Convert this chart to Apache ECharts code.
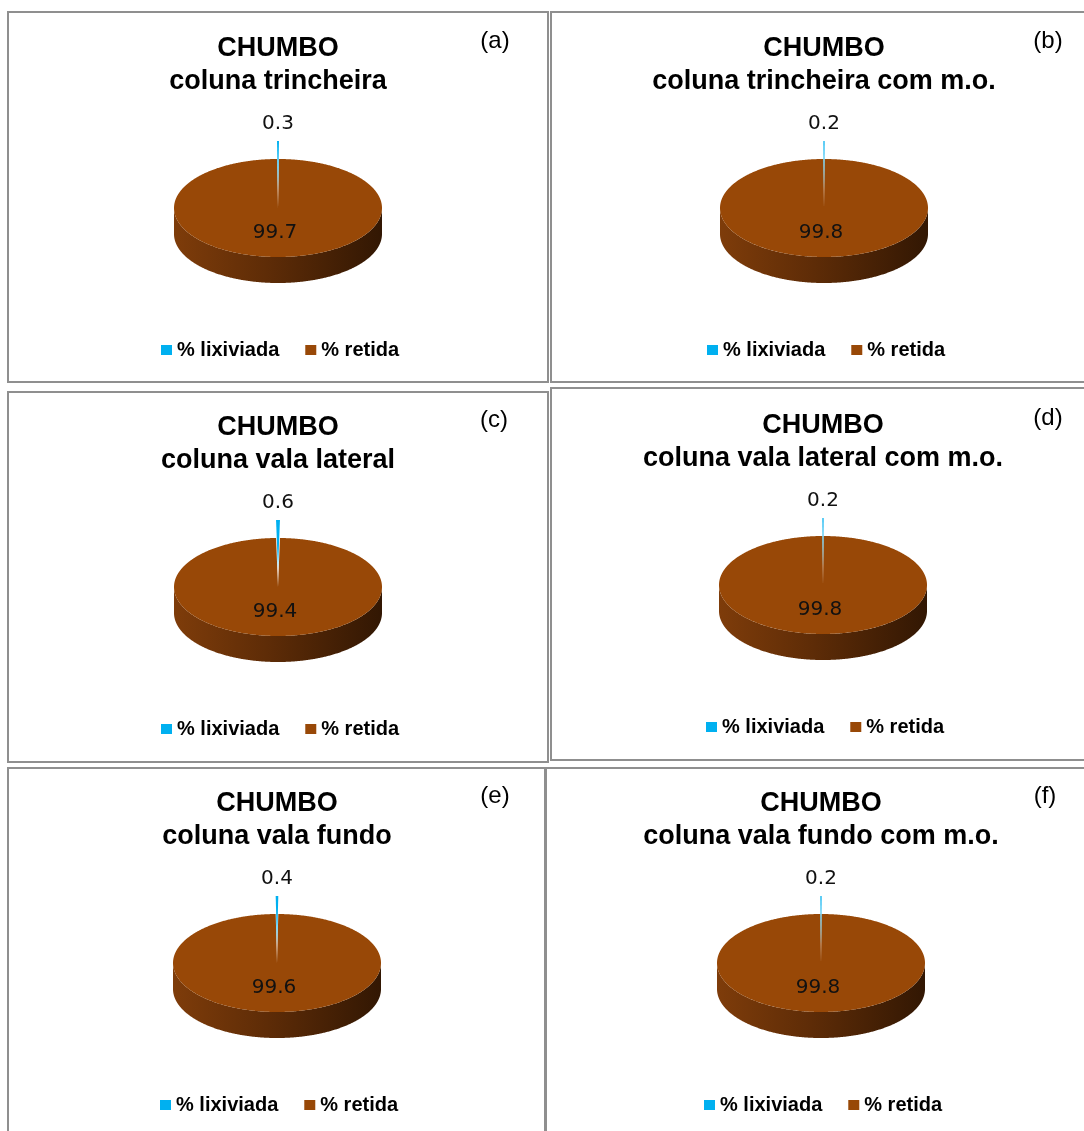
<!DOCTYPE html>
<html>
<head>
<meta charset="utf-8">
<script src="https://cdn.jsdelivr.net/npm/echarts@6/dist/echarts.min.js"></script>
<style>
  html, body { margin: 0; padding: 0; background: #fff; }
  #chart { width: 1084px; height: 1131px; }
</style>
</head>
<body>
<div id="chart"></div>
<script>
// data
const categories = ['% lixiviada', '% retida']
const heading = 'CHUMBO'
const subtitles = [
  'coluna trincheira',
  'coluna trincheira com m.o.',
  'coluna vala lateral',
  'coluna vala lateral com m.o.',
  'coluna vala fundo',
  'coluna vala fundo com m.o.'
]
const tags = ['(a)', '(b)', '(c)', '(d)', '(e)', '(f)']
const lixiviada = [0.3, 0.2, 0.6, 0.2, 0.4, 0.2]
const retida = [99.7, 99.8, 99.4, 99.8, 99.6, 99.8]

// panel layout (pixels)
const panels = [
  { cx: 278, cy: 208, tagX: 495, box: [8, 12, 540, 370] },
  { cx: 824, cy: 208, tagX: 1048, box: [551, 12, 545, 370] },
  { cx: 278, cy: 587, tagX: 494, box: [8, 392, 540, 370] },
  { cx: 823, cy: 585, tagX: 1048, box: [551, 388, 545, 372] },
  { cx: 277, cy: 963, tagX: 495, box: [8, 768, 537, 380] },
  { cx: 821, cy: 963, tagX: 1045, box: [546, 768, 550, 380] }
]

const RX = 104
const RY = 49
const DEPTH = 26
const EXPLODE_Y = 18
const colors = { '% lixiviada': '#00B0F0', '% retida': '#984807' }

function arc(cx, cy, a0, a1) {
  const pts = []
  const n = Math.max(2, Math.ceil((a1 - a0) / (Math.PI / 360)))
  for (let k = 0; k <= n; k++) {
    const a = a0 + (a1 - a0) * k / n
    pts.push([cx + RX * Math.sin(a), cy - RY * Math.cos(a)])
  }
  return pts
}

function makeSlice(p, color, explode) {
  return function (params, api) {
    const start = api.value(0)
    const val = api.value(1)
    const a0 = start / 100 * Math.PI * 2
    const a1 = (start + val) / 100 * Math.PI * 2
    const mid = (a0 + a1) / 2
    let cx = p.cx
    let cy = p.cy
    if (explode) {
      cx += Math.sin(mid) * EXPLODE_Y * RX / RY
      cy -= Math.cos(mid) * EXPLODE_Y
    }
    const children = []
    // side wall, only the front half shows
    const s = Math.max(a0, Math.PI / 2)
    const e = Math.min(a1, Math.PI * 1.5)
    if (s < e) {
      const top = arc(cx, cy, s, e)
      const bottom = top.map(q => [q[0], q[1] + DEPTH]).reverse()
      children.push({
        type: 'polygon',
        shape: { points: top.concat(bottom) },
        style: {
          fill: {
            type: 'linear', x: cx - RX, y: 0, x2: cx + RX, y2: 0, global: true,
            colorStops: [
              { offset: 0, color: '#7e3c0a' },
              { offset: 0.45, color: '#5e2c07' },
              { offset: 1, color: '#321703' }
            ]
          }
        }
      })
    }
    children.push({
      type: 'polygon',
      shape: { points: [[cx, cy]].concat(arc(cx, cy, a0, a1)) },
      style: { fill: color }
    })
    // data label: small slices outside, big ones inside
    const f = val < 5 ? 1.72 : 0.51
    children.push({
      type: 'text',
      style: {
        text: String(val),
        x: p.cx + Math.sin(mid) * RX * f - (val < 5 ? 0 : 3),
        y: p.cy - Math.cos(mid) * RY * f,
        fill: '#111',
        font: '20px "DejaVu Sans"',
        align: 'center',
        verticalAlign: 'middle'
      }
    })
    return { type: 'group', children }
  }
}

// first slice centred on twelve o'clock
const series = []
panels.forEach((p, i) => {
  const rot = lixiviada[i] / 2
  series.push({
    type: 'custom',
    name: '% retida',
    coordinateSystem: 'none',
    dimensions: ['start', 'val'],
    itemStyle: { color: colors['% retida'] },
    silent: true,
    z: 2,
    renderItem: makeSlice(p, colors['% retida'], false),
    data: [[lixiviada[i] - rot, retida[i]]]
  })
  series.push({
    type: 'custom',
    name: '% lixiviada',
    coordinateSystem: 'none',
    dimensions: ['start', 'val'],
    itemStyle: { color: colors['% lixiviada'] },
    silent: true,
    z: 3,
    renderItem: makeSlice(p, colors['% lixiviada'], true),
    data: [[-rot, lixiviada[i]]]
  })
})

const titles = []
panels.forEach((p, i) => {
  titles.push({
    text: heading + '\n' + subtitles[i],
    left: p.cx,
    top: p.cy - 176,
    textAlign: 'center',
    padding: 0,
    textStyle: {
      fontFamily: 'Liberation Sans',
      fontWeight: 'bold',
      fontSize: 27,
      lineHeight: 33,
      color: '#000'
    }
  })
  titles.push({
    text: tags[i],
    left: p.tagX,
    top: p.cy - 180,
    textAlign: 'center',
    padding: 0,
    textStyle: {
      fontFamily: 'Liberation Sans',
      fontWeight: 'normal',
      fontSize: 24,
      lineHeight: 26,
      color: '#000'
    }
  })
})

const legends = panels.map(p => ({
  data: categories,
  left: p.cx - 117,
  top: p.cy + 141 - 9,
  padding: 0,
  icon: 'rect',
  itemWidth: 11,
  itemHeight: 10,
  itemGap: 26,
  selectedMode: false,
  textStyle: {
    fontFamily: 'Liberation Sans',
    fontWeight: 'bold',
    fontSize: 20,
    color: '#000',
    padding: [0, 0, 0, 0]
  }
}))

const borders = panels.map(p => ({
  type: 'rect',
  shape: { x: p.box[0], y: p.box[1], width: p.box[2], height: p.box[3] },
  style: { fill: 'none', stroke: '#8f8f8f', lineWidth: 2 },
  silent: true
}))

const chart = echarts.init(document.getElementById('chart'))
chart.setOption({
  backgroundColor: '#fff',
  animation: false,
  title: titles,
  legend: legends,
  graphic: borders,
  series: series
})
</script>
</body>
</html>
